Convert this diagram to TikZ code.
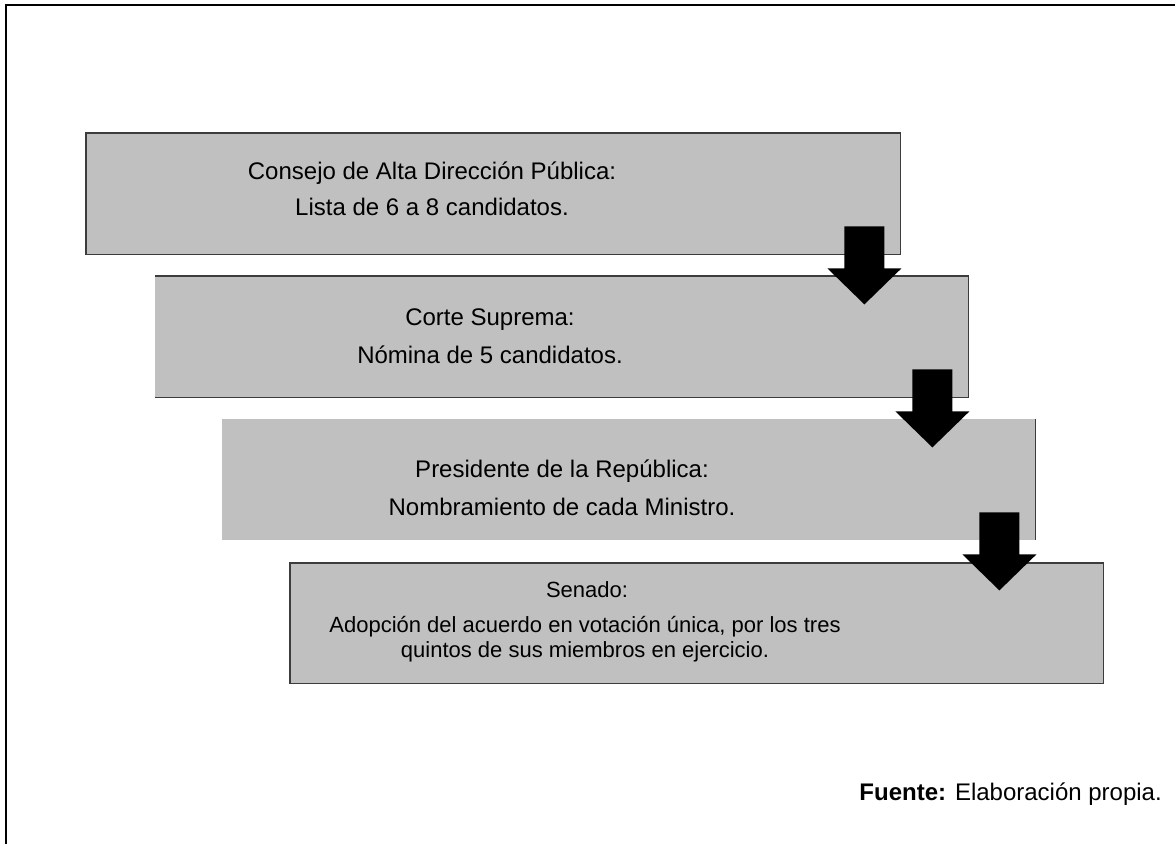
\documentclass[tikz,border=0pt]{standalone}
\usepackage{fontspec}
\setmainfont{Liberation Sans}
\usepackage{tikz}
\usetikzlibrary{calc}

\begin{document}
\begin{tikzpicture}[x=1pt,y=-1pt,
  box/.style={fill=boxgray, inner sep=0pt, anchor=north west},
  edge/.style={draw=boxline, line width=1.5pt},
  txt/.style={anchor=base, inner sep=0pt, font=\fontsize{24}{28}\selectfont},
  small/.style={anchor=base, inner sep=0pt, font=\fontsize{22}{25}\selectfont}]

  \definecolor{boxgray}{RGB}{192,192,192}
  \definecolor{boxline}{RGB}{60,60,60}

  \def\xmax{1175}
  \def\ymax{844}
  \useasboundingbox (0,0) rectangle (\xmax,\ymax);

  % frame
  \draw[line width=2pt] (6,\ymax) -- (6,5) -- (\xmax,5);

  % boxes
  \node[box, minimum width=814pt, minimum height=121pt] (cadp) at (86,133) {};
  \node[box, minimum width=813pt, minimum height=121pt] (cs) at (155,276) {};
  \node[box, minimum width=813pt, minimum height=121pt] (pr) at (222,419) {};
  \node[box, minimum width=813pt, minimum height=120pt] (sen) at (290,563) {};

  % borders
  \draw[edge] (cadp.north west) rectangle (cadp.south east);
  \draw[edge] (cs.north west) -- (cs.north east) -- (cs.south east) -- (cs.south west);
  \draw[edge] (pr.north east) -- (pr.south east);
  \draw[edge] (sen.north west) rectangle (sen.south east);

  % block arrows
  \foreach \a in {cadp,cs,pr}
  \fill ($(\a.south east)+(-56,-28)$) -- ++(40,0) -- ++(0,42) -- ++(17,0)
    -- ++(-37,36) -- ++(-37,-36) -- ++(17,0) -- cycle;

  % texts
  \node[txt] (cadp1) at (432,179) {Consejo de Alta Dirección Pública:};
  \node[txt] (cadp2) at (432,215) {Lista de 6 a 8 candidatos.};
  \node[txt] (cs1) at (490,325) {Corte Suprema:};
  \node[txt] (cs2) at (490,363) {Nómina de 5 candidatos.};
  \node[txt] (pr1) at (562,477) {Presidente de la República:};
  \node[txt] (pr2) at (562,515) {Nombramiento de cada Ministro.};
  \node[small] (sen1) at (587,597) {Senado:};
  \node[small] (sen2) at (585,632) {Adopción del acuerdo en votación única, por los tres};
  \node[small] (sen3) at (585,657) {quintos de sus miembros en ejercicio.};

  \node[txt, anchor=base east] (fuente) at (1162,800) {\textbf{Fuente:} Elaboración propia.};

\end{tikzpicture}
\end{document}
